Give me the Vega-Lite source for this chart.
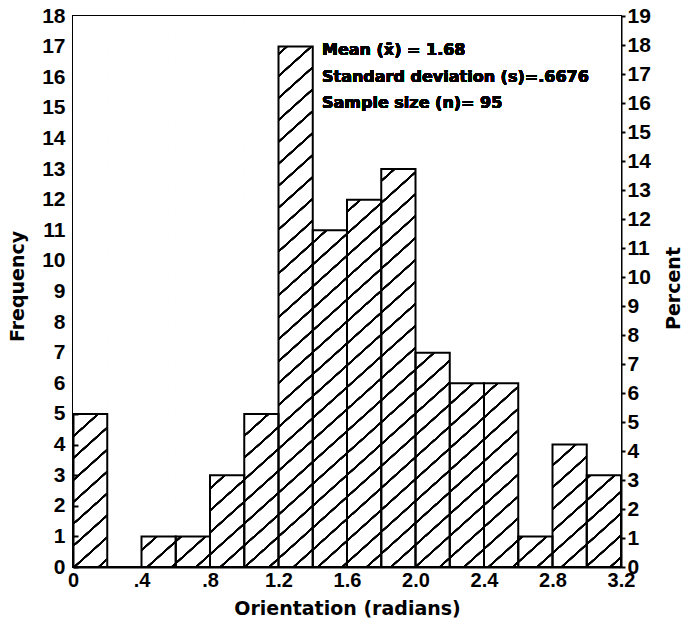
{
  "$schema": "https://vega.github.io/schema/vega-lite/v6.json",
  "width": 548,
  "height": 551,
  "autosize": {"type": "none"},
  "padding": {"left": 73, "top": 16, "right": 63, "bottom": 57},
  "background": "white",
  "config": {
    "view": {"stroke": "black", "strokeWidth": 2},
    "axis": {
      "grid": false,
      "domainColor": "black",
      "domainWidth": 2,
      "tickColor": "black",
      "tickWidth": 2,
      "labelColor": "black",
      "labelFont": "Liberation Sans",
      "labelFontWeight": "bold",
      "titleColor": "black",
      "titleFont": "DejaVu Sans",
      "titleFontWeight": "bold",
      "titleFontSize": 19
    }
  },
  "data": {
    "values": [
      {"bin_start": 0.0, "bin_end": 0.2, "count": 5},
      {"bin_start": 0.2, "bin_end": 0.4, "count": 0},
      {"bin_start": 0.4, "bin_end": 0.6, "count": 1},
      {"bin_start": 0.6, "bin_end": 0.8, "count": 1},
      {"bin_start": 0.8, "bin_end": 1.0, "count": 3},
      {"bin_start": 1.0, "bin_end": 1.2, "count": 5},
      {"bin_start": 1.2, "bin_end": 1.4, "count": 17},
      {"bin_start": 1.4, "bin_end": 1.6, "count": 11},
      {"bin_start": 1.6, "bin_end": 1.8, "count": 12},
      {"bin_start": 1.8, "bin_end": 2.0, "count": 13},
      {"bin_start": 2.0, "bin_end": 2.2, "count": 7},
      {"bin_start": 2.2, "bin_end": 2.4, "count": 6},
      {"bin_start": 2.4, "bin_end": 2.6, "count": 6},
      {"bin_start": 2.6, "bin_end": 2.8, "count": 1},
      {"bin_start": 2.8, "bin_end": 3.0, "count": 4},
      {"bin_start": 3.0, "bin_end": 3.2, "count": 3}
    ]
  },
  "layer": [
    {
      "encoding": {
        "x": {
          "field": "bin_start",
          "type": "quantitative",
          "scale": {"domain": [0, 3.2], "nice": false, "zero": false},
          "axis": {
            "values": [0, 0.4, 0.8, 1.2, 1.6, 2.0, 2.4, 2.8, 3.2],
            "ticks": false,
            "labelFontSize": 20,
            "labelPadding": 3,
            "labelFlush": false,
            "labelExpr": "datum.value == 0 ? '0' : (datum.value < 1 ? replace(format(datum.value, '.1f'), '0.', '.') : format(datum.value, '.1f'))",
            "title": "Orientation (radians)",
            "titleY": 47,
            "titleBaseline": "alphabetic"
          }
        },
        "x2": {"field": "bin_end"},
        "y": {
          "field": "count",
          "type": "quantitative",
          "scale": {"domain": [0, 18], "nice": false},
          "axis": {
            "orient": "left",
            "values": [0, 1, 2, 3, 4, 5, 6, 7, 8, 9, 10, 11, 12, 13, 14, 15, 16, 17, 18],
            "tickSize": -5,
            "labelPadding": 13,
            "labelFontSize": 21,
            "labelBaseline": "middle",
            "title": "Frequency",
            "titleAngle": 270,
            "titleX": -50,
            "titleY": 270,
            "titleAlign": "center",
            "titleBaseline": "alphabetic"
          }
        }
      },
      "layer": [
        {
          "description": "diagonal hatch texture: one wide dashed stroke across the plot, each dash becoming a thin slanted stripe",
          "mark": {
            "type": "rule",
            "clip": true,
            "color": "black",
            "strokeWidth": 900,
            "strokeDash": [1.3, 15],
            "strokeCap": "butt"
          },
          "encoding": {
            "x": {"datum": -0.353, "type": "quantitative"},
            "x2": {"datum": 3.553},
            "y": {"datum": 21.14, "type": "quantitative"},
            "y2": {"datum": -3.14}
          }
        },
        {
          "description": "white cover above each bar so the hatch shows only inside the bars",
          "mark": {"type": "bar", "fill": "white", "stroke": "white", "strokeWidth": 1, "clip": true},
          "encoding": {
            "y2": {"datum": 18}
          }
        },
        {
          "description": "bar outlines",
          "mark": {"type": "bar", "filled": false, "color": "black", "strokeWidth": 2},
          "encoding": {
            "y2": {"datum": 0}
          }
        }
      ]
    },
    {
      "description": "summary statistics; this layer also carries the percent axis",
      "mark": {
        "type": "text",
        "align": "left",
        "baseline": "alphabetic",
        "font": "DejaVu Sans",
        "fontWeight": "bold",
        "fontSize": 16,
        "lineHeight": 26.5,
        "color": "black"
      },
      "encoding": {
        "x": {"datum": 1.454, "type": "quantitative"},
        "y": {
          "datum": 17.65,
          "type": "quantitative",
          "scale": {"domain": [0, 19], "nice": false},
          "axis": {
            "orient": "right",
            "values": [0, 1, 2, 3, 4, 5, 6, 7, 8, 9, 10, 11, 12, 13, 14, 15, 16, 17, 18, 19],
            "tickSize": 4,
            "labelPadding": 2,
            "labelFontSize": 21,
            "labelBaseline": "middle",
            "title": "Percent",
            "titleAngle": 270,
            "titleX": 58,
            "titleY": 272,
            "titleAlign": "center",
            "titleBaseline": "alphabetic"
          }
        },
        "text": {"value": ["Mean (x̄) = 1.68", "Standard deviation (s)=.6676", "Sample size (n)= 95"]}
      }
    }
  ],
  "resolve": {"scale": {"y": "independent"}}
}
